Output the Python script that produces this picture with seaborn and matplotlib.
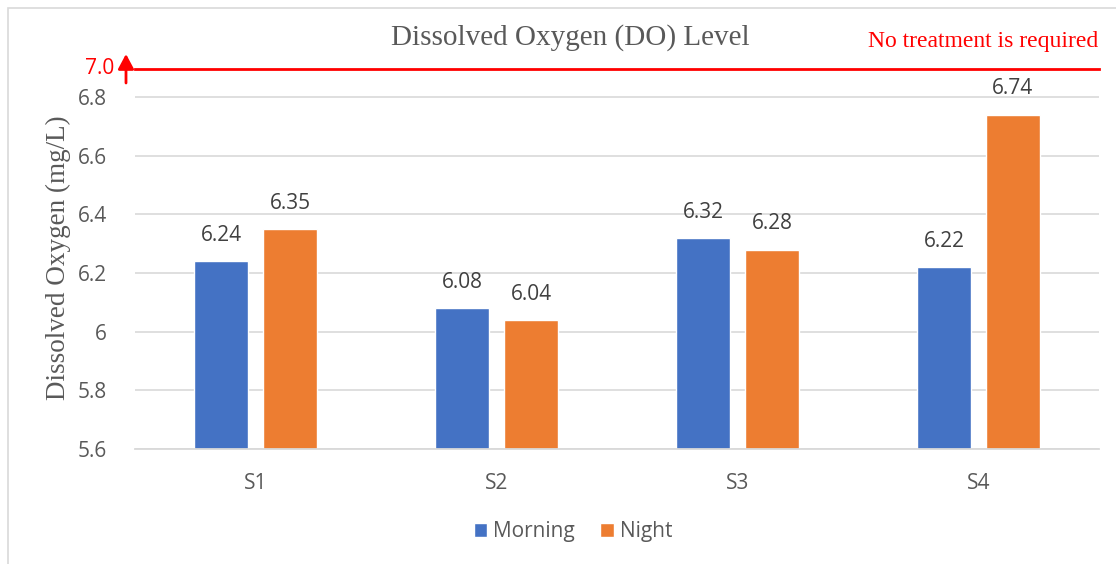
import matplotlib
matplotlib.use("Agg")
import matplotlib.pyplot as plt
import seaborn as sns
import pandas as pd
from matplotlib.patches import Rectangle

# Dissolved oxygen readings per sampling site
sites = ["S1", "S2", "S3", "S4"]
morning = [6.24, 6.08, 6.32, 6.22]
night = [6.35, 6.04, 6.28, 6.74]
periods = ["Morning", "Night"]
yticks = [5.6, 5.8, 6.0, 6.2, 6.4, 6.6, 6.8]
ytick_labels = ["5.6", "5.8", "6", "6.2", "6.4", "6.6", "6.8"]
threshold_label = "7.0"
threshold_note = "No treatment is required"

df = pd.DataFrame({
    "Site": sites * 2,
    "Period": [periods[0]] * len(sites) + [periods[1]] * len(sites),
    "DO": morning + night,
})

BLUE, ORANGE = "#4472C4", "#ED7D31"
GRID = "#D9D9D9"
TXT = "#595959"
RED = "#FF0000"
SERIF = "Liberation Serif"
SANS = "Open Sans"

sns.set_theme(style="white")
plt.rcParams["font.family"] = [SANS, "DejaVu Sans"]

W, H = 1116, 564
fig = plt.figure(figsize=(W / 100, H / 100), dpi=100)
ax = fig.add_axes([135 / W, 1 - 449 / H, (1099 - 135) / W, (449 - 69.3) / H])

sns.barplot(data=df, x="Site", y="DO", hue="Period", palette=[BLUE, ORANGE],
            width=0.572, gap=0.217, saturation=1, errorbar=None, ax=ax)

ax.set_ylim(5.6, 6.8945)
ax.set_yticks(yticks)
ax.set_yticklabels(ytick_labels)
ax.set_xlabel("")
ax.set_ylabel("")
ax.yaxis.grid(True, color=GRID, lw=1.2)
ax.set_axisbelow(True)
ax.tick_params(axis="both", length=0, labelsize=15, labelcolor=TXT)
ax.tick_params(axis="y", pad=20)
ax.tick_params(axis="x", pad=17)
for s in ("left", "right"):
    ax.spines[s].set_visible(False)
ax.spines["bottom"].set_color(GRID)
ax.spines["bottom"].set_linewidth(1.3)
ax.spines["top"].set_color(RED)
ax.spines["top"].set_linewidth(2)

for cont in ax.containers:
    ax.bar_label(cont, fmt="%.2f", padding=11, fontsize=15, color="#404040")

handles, labels = ax.get_legend_handles_labels()
if ax.get_legend() is not None:
    ax.get_legend().remove()
fig.legend(handles, labels, loc="center", bbox_to_anchor=(573 / W, 1 - 532 / H),
           ncol=2, frameon=False, handlelength=0.65, handleheight=0.65,
           handletextpad=0.3, columnspacing=1.2, prop={"family": SANS, "size": 15},
           labelcolor=TXT)

# Titles and axis caption
fig.text(570 / W, 1 - 38 / H, "Dissolved Oxygen (DO) Level", ha="center", va="center",
         family=SERIF, fontsize=21, color=TXT)
fig.text(1098 / W, 1 - 42 / H, threshold_note, ha="right", va="center",
         family=SERIF, fontsize=17, color=RED)
fig.text(58 / W, 1 - 258 / H, "Dissolved Oxygen (mg/L)", ha="center", va="center",
         rotation=90, family=SERIF, fontsize=19.5, color=TXT)

# Threshold marker at the top of the value axis
fig.text(114 / W, 1 - 68 / H, threshold_label, ha="right", va="center",
         fontsize=15, color=RED)
ax.annotate("", xy=(126 / W, 1 - 54 / H), xytext=(126 / W, 1 - 83 / H),
            xycoords="figure fraction", textcoords="figure fraction",
            arrowprops=dict(arrowstyle="-|>,head_length=0.75,head_width=0.4",
                            color=RED, lw=2, shrinkA=0, shrinkB=0))

# Chart area frame
fig.patches.append(Rectangle((8 / W, -0.1), 1.2, 1.1 - 8 / H, transform=fig.transFigure,
                             facecolor="none", edgecolor=GRID, lw=1.2))

fig.savefig("out.png", dpi=100)
